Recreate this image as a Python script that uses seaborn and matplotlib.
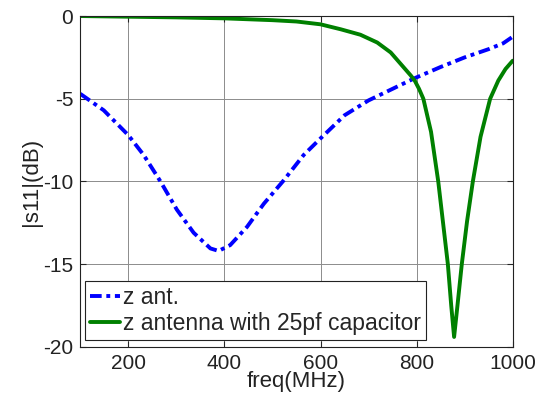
import numpy as np
import pandas as pd
import seaborn as sns
import matplotlib
matplotlib.use("Agg")
import matplotlib.pyplot as plt

# Data
freq_ant = [100, 149, 200, 232, 267, 301, 336, 371, 388, 412, 447, 482, 523,
            565, 600, 650, 700, 750, 795, 850, 900, 950, 980, 1000]
s11_ant = [-4.7, -5.7, -7.2, -8.4, -10.0, -11.7, -13.1, -14.05, -14.2, -13.85,
           -12.75, -11.35, -9.95, -8.4, -7.4, -6.0, -5.1, -4.4, -3.77, -3.08,
           -2.5, -2.0, -1.65, -1.25]

freq_cap = [100, 200, 300, 400, 500, 550, 600, 642, 683, 718, 746, 767, 788,
            796, 805, 814, 830, 845, 855, 865, 872, 878, 885, 894, 905, 917,
            933, 953, 970, 985, 1000]
s11_cap = [0.0, -0.04, -0.08, -0.14, -0.25, -0.33, -0.5, -0.8, -1.13, -1.6,
           -2.2, -2.9, -3.6, -3.9, -4.4, -5.0, -7.0, -10.0, -12.5, -15.0,
           -17.5, -19.4, -17.5, -15.0, -12.4, -10.0, -7.3, -5.0, -3.9, -3.2,
           -2.7]

labels = ["z ant.", "z antenna with 25pf capacitor"]
x_ticks = [200, 400, 600, 800, 1000]
y_ticks = [0, -5, -10, -15, -20]

df_ant = pd.DataFrame({"freq": freq_ant, "s11": s11_ant})
df_cap = pd.DataFrame({"freq": freq_cap, "s11": s11_cap})

sns.set_style("ticks")
plt.rcParams['font.family'] = ['Liberation Sans', 'DejaVu Sans']
plt.rcParams['font.size'] = 15
plt.rcParams['axes.unicode_minus'] = False

fig = plt.figure(figsize=(5.42, 4.01), dpi=100)
ax = fig.add_axes([0.148, 0.135, 0.798, 0.825])

sns.lineplot(data=df_ant, x="freq", y="s11", ax=ax, color=(0, 0, 1),
             lw=2.8, linestyle=(0, (3, 1.2, 1, 1.2)), label=labels[0],
             sort=False)
sns.lineplot(data=df_cap, x="freq", y="s11", ax=ax, color=(0, 0.5, 0),
             lw=2.8, label=labels[1], sort=False, solid_joinstyle="round")

ax.set_xlim(100, 1000)
ax.set_ylim(-20, 0)
ax.set_xticks(x_ticks)
ax.set_yticks(y_ticks)
ax.set_xlabel("freq(MHz)", fontsize=16, labelpad=-1, color="#222222")
ax.set_ylabel("|s11|(dB)", fontsize=16, labelpad=1, color="#222222")
ax.tick_params(direction="in", top=True, right=True, length=4, width=0.8,
               labelsize=15, labelcolor="#222222", pad=5)
ax.grid(True, color="#8c8c8c", lw=0.7)
for sp in ax.spines.values():
    sp.set_color("#222222")
    sp.set_linewidth(0.8)

leg = ax.legend(loc="lower left", bbox_to_anchor=(0.012, 0.022), fontsize=16.5,
                frameon=True, fancybox=False, framealpha=1, edgecolor="#222222",
                handlelength=1.3, handletextpad=0.15, borderpad=0.2,
                labelspacing=0.15, borderaxespad=0)
leg.get_frame().set_linewidth(0.8)

fig.savefig("out.png", dpi=100)
